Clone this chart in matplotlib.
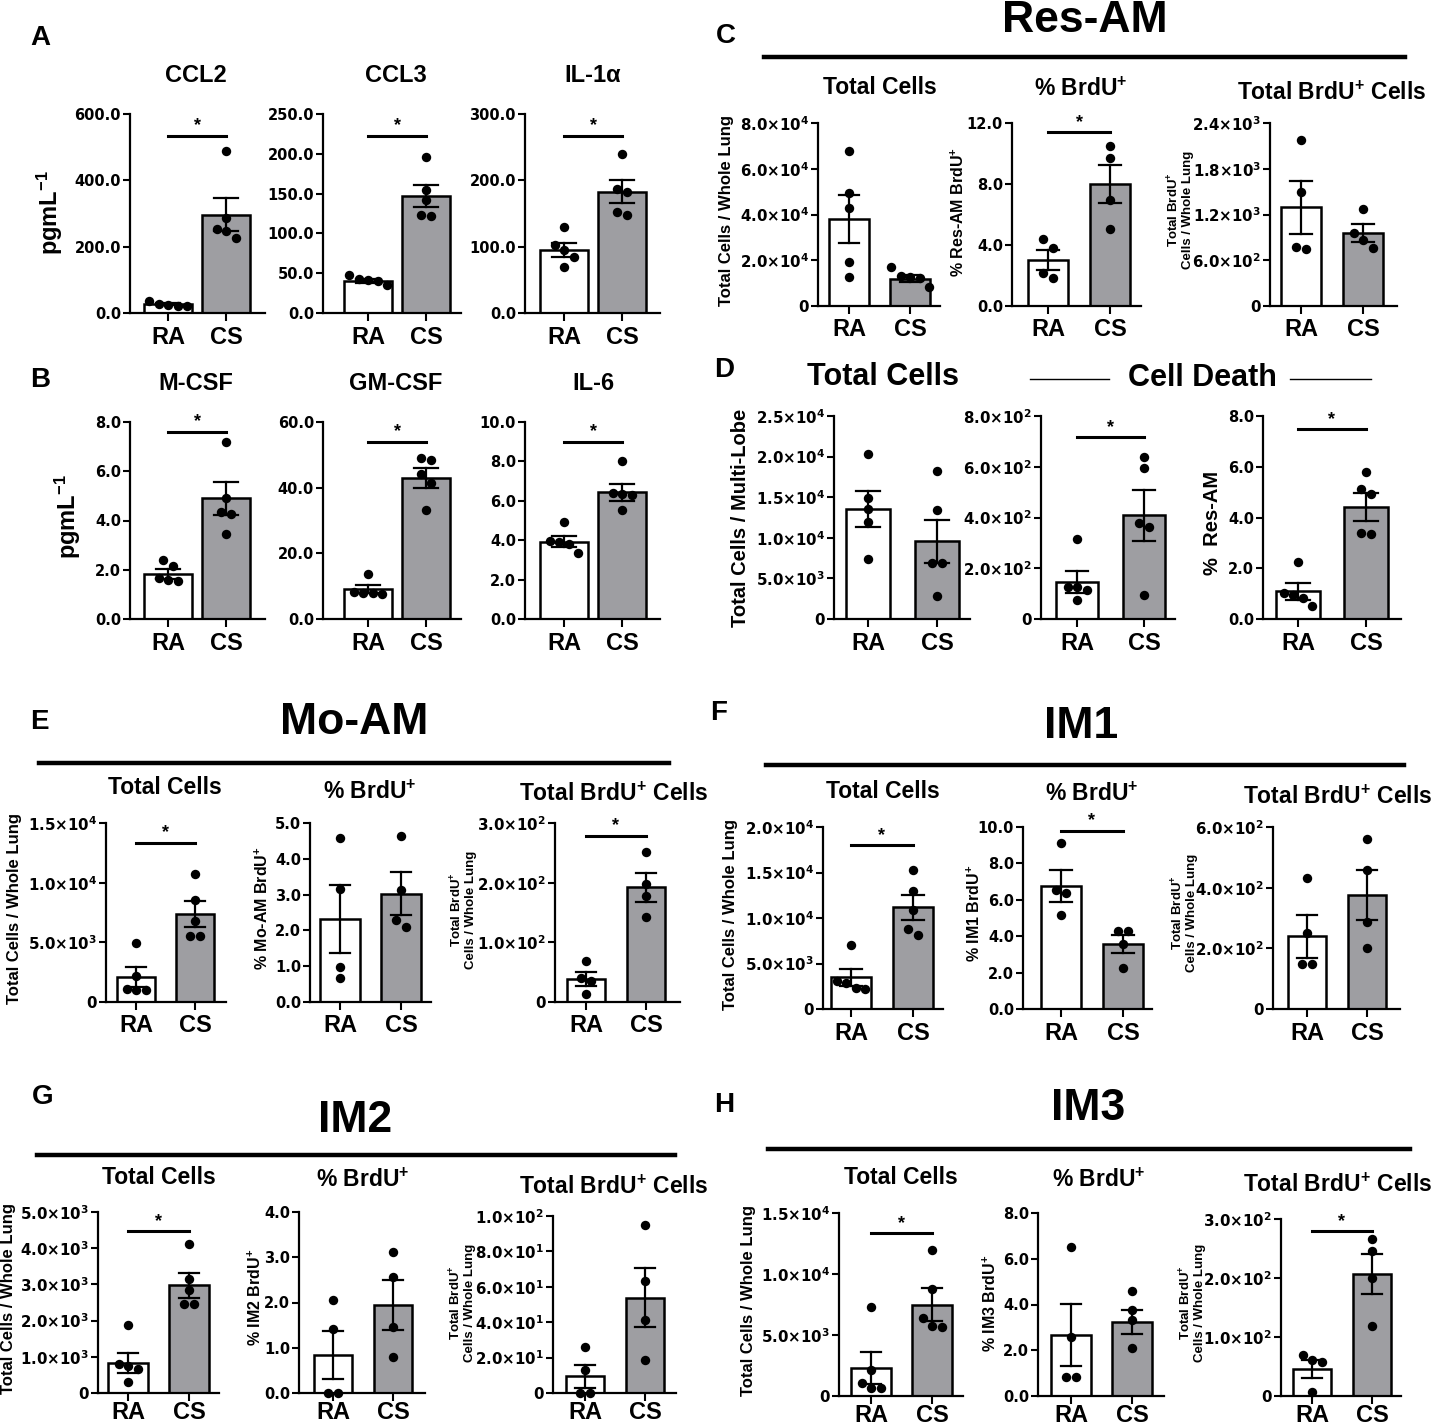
import matplotlib
matplotlib.use("Agg")
import matplotlib.pyplot as plt
import numpy as np

W, H = 1431, 1422
plt.rcParams["font.family"] = ["Liberation Sans", "DejaVu Sans"]
plt.rcParams["font.weight"] = "bold"
plt.rcParams["mathtext.default"] = "regular"
plt.rcParams["axes.linewidth"] = 1.6

GROUPS = ["RA", "CS"]
RA_COLOR = "white"
CS_COLOR = "#9e9ea2"
TICK_FONT = ["DejaVu Sans"]

# ---- A: cytokines (pg/mL) ----
CCL2_RA = [37, 28, 25, 22, 20]
CCL2_CS = [487, 287, 252, 246, 225]
CCL2_MEAN = [26, 296]
CCL2_SEM = [3, 50]
CCL3_RA = [48, 43, 42, 40, 35]
CCL3_CS = [196, 155, 142, 123, 122]
CCL3_MEAN = [40, 147]
CCL3_SEM = [2.5, 14]
IL1A_RA = [129, 102, 95, 85, 69]
IL1A_CS = [240, 187, 182, 152, 147]
IL1A_MEAN = [95, 183]
IL1A_SEM = [10, 17]
# ---- B ----
MCSF_RA = [2.4, 2.15, 1.65, 1.6, 1.55]
MCSF_CS = [7.2, 4.9, 4.35, 4.25, 3.45]
MCSF_MEAN = [1.82, 4.9]
MCSF_SEM = [0.2, 0.67]
GMCSF_RA = [13.8, 8.2, 8.0, 7.8, 7.6]
GMCSF_CS = [49.1, 48.4, 44.1, 41.3, 33.2]
GMCSF_MEAN = [9.1, 43.0]
GMCSF_SEM = [1.2, 3.0]
IL6_RA = [4.9, 3.95, 3.9, 3.8, 3.35]
IL6_CS = [8.0, 6.4, 6.35, 6.27, 5.53]
IL6_MEAN = [3.93, 6.43]
IL6_SEM = [0.3, 0.42]
# ---- C: Res-AM ----
RES_TOT_RA = [6.79e4, 4.93e4, 4.28e4, 1.94e4, 1.28e4]
RES_TOT_CS = [1.69e4, 1.31e4, 1.28e4, 1.21e4, 0.82e4]
RES_TOT_MEAN = [3.81e4, 1.20e4]
RES_TOT_SEM = [1.05e4, 0.15e4]
RES_PCT_RA = [4.4, 3.79, 2.14, 1.82]
RES_PCT_CS = [10.46, 9.69, 6.96, 5.03]
RES_PCT_MEAN = [3.02, 8.01]
RES_PCT_SEM = [0.66, 1.25]
RES_BRDU_RA = [2181, 1494, 780, 745]
RES_BRDU_CS = [1275, 960, 870, 760]
RES_BRDU_MEAN = [1292, 955]
RES_BRDU_SEM = [350, 122]
# ---- D: total cells / cell death ----
D_TOT_RA = [2.03e4, 1.49e4, 1.35e4, 1.20e4, 0.74e4]
D_TOT_CS = [1.82e4, 1.34e4, 0.69e4, 0.69e4, 0.28e4]
D_TOT_MEAN = [1.357e4, 0.955e4]
D_TOT_SEM = [0.22e4, 0.27e4]
D_DEATH_RA = [316, 126, 126, 113, 73]
D_DEATH_CS = [637, 594, 378, 362, 93]
D_DEATH_MEAN = [146, 408]
D_DEATH_SEM = [45, 101]
D_PCT_RA = [2.23, 1.02, 0.96, 0.83, 0.52]
D_PCT_CS = [5.81, 5.11, 4.93, 3.38, 3.36]
D_PCT_MEAN = [1.09, 4.43]
D_PCT_SEM = [0.33, 0.55]
# ---- E: Mo-AM ----
MO_TOT_RA = [4944, 2150, 1089, 1033, 978]
MO_TOT_CS = [10754, 8575, 6816, 5503, 5503]
MO_TOT_MEAN = [2095, 7374]
MO_TOT_SEM = [810, 1090]
MO_PCT_RA = [4.58, 3.16, 0.98, 0.66]
MO_PCT_CS = [4.63, 3.14, 2.30, 2.10]
MO_PCT_MEAN = [2.32, 3.03]
MO_PCT_SEM = [0.96, 0.59]
MO_BRDU_RA = [68, 40, 35, 14]
MO_BRDU_CS = [252, 198, 177, 142]
MO_BRDU_MEAN = [39, 192]
MO_BRDU_SEM = [12, 24]
# ---- F: IM1 ----
IM1_TOT_RA = [7020, 3071, 2815, 2267, 2194]
IM1_TOT_CS = [15247, 12943, 10859, 8739, 8117]
IM1_TOT_MEAN = [3474, 11188]
IM1_TOT_SEM = [914, 1390]
IM1_PCT_RA = [9.14, 6.53, 6.38, 5.19]
IM1_PCT_CS = [4.30, 4.30, 3.56, 2.27]
IM1_PCT_MEAN = [6.76, 3.56]
IM1_PCT_SEM = [0.9, 0.5]
IM1_BRDU_RA = [433, 249, 148, 148]
IM1_BRDU_CS = [559, 457, 287, 200]
IM1_BRDU_MEAN = [240, 375]
IM1_BRDU_SEM = [71, 82]
# ---- G: IM2 ----
IM2_TOT_RA = [1869, 792, 737, 672, 304]
IM2_TOT_CS = [4125, 3158, 2855, 2468, 2449]
IM2_TOT_MEAN = [829, 2974]
IM2_TOT_SEM = [276, 341]
IM2_PCT_RA = [2.05, 1.42, 0, 0]
IM2_PCT_CS = [3.12, 2.56, 1.46, 0.80]
IM2_PCT_MEAN = [0.85, 1.95]
IM2_PCT_SEM = [0.53, 0.55]
IM2_BRDU_RA = [26, 13.2, 0, 0]
IM2_BRDU_CS = [94.9, 63.2, 41.1, 18.5]
IM2_BRDU_MEAN = [9.4, 53.8]
IM2_BRDU_SEM = [6.6, 16.6]
# ---- H: IM3 ----
IM3_TOT_RA = [7308, 2127, 1036, 682, 682]
IM3_TOT_CS = [11944, 8808, 6354, 5727, 5672]
IM3_TOT_MEAN = [2318, 7500]
IM3_TOT_SEM = [1309, 1363]
IM3_PCT_RA = [6.52, 2.59, 0.84, 0.84]
IM3_PCT_CS = [4.58, 3.75, 3.32, 2.08]
IM3_PCT_MEAN = [2.66, 3.24]
IM3_PCT_SEM = [1.35, 0.54]
IM3_BRDU_RA = [69.6, 61, 58, 7.4]
IM3_BRDU_CS = [266, 246, 200, 119]
IM3_BRDU_MEAN = [45.8, 206.6]
IM3_BRDU_SEM = [15, 34]


def sci(v):
    if v == 0:
        return "0"
    e = int(np.floor(np.log10(v) + 1e-9))
    return f"${v / 10 ** e:.1f}×10^{{{e}}}$"


def dec(v):
    return f"{v:.1f}"


def spread(vals, thr, step):
    # simple GraphPad-like scatter: points close in y share a centred row
    order = np.argsort(vals)[::-1]
    offs = np.zeros(len(vals))
    cluster = [order[0]]
    clusters = []
    for i in order[1:]:
        if vals[cluster[-1]] - vals[i] < thr:
            cluster.append(i)
        else:
            clusters.append(cluster)
            cluster = [i]
    clusters.append(cluster)
    for c in clusters:
        n = len(c)
        for k, i in enumerate(c):
            offs[i] = (k - (n - 1) / 2) * step
    return offs


fig = plt.figure(figsize=(W / 100, H / 100), dpi=100)
bg = fig.add_axes([0, 0, 1, 1], zorder=-1)
bg.set_xlim(0, W)
bg.set_ylim(H, 0)
bg.axis("off")


def panel(box, ymax, tstep, fmt, ra, cs, mean, sem, sig=None, width=0.64, cap=0.17, xpad=3):
    yx, c0, c1, end, top, bot = box
    sp = c1 - c0
    ax = fig.add_axes([yx / W, 1 - bot / H, (end - yx) / W, (bot - top) / H])
    ax.set_xlim((yx - c0) / sp, (end - c0) / sp)
    ax.set_ylim(0, ymax)
    ax.bar([0, 1], mean, width=width, color=[RA_COLOR, CS_COLOR],
           edgecolor="black", linewidth=1.8, zorder=2)
    for x, m, s in zip([0, 1], mean, sem):
        ax.plot([x, x], [m - s, m + s], color="black", lw=1.6, zorder=3)
        for yy in (m - s, m + s):
            ax.plot([x - cap, x + cap], [yy, yy], color="black", lw=1.6, zorder=3)
    thr = 9.5 / (bot - top) * ymax
    for x, pts in zip([0, 1], [ra, cs]):
        offs = spread(np.array(pts, dtype=float), thr, 9.5 / sp)
        ax.scatter(x + offs, pts, s=46, color="black", zorder=4, clip_on=False, linewidths=0)
    ticks = np.arange(0, ymax + tstep / 2, tstep)
    ax.set_yticks(ticks)
    ax.set_yticklabels([fmt(t) for t in ticks], fontsize=10.5 if fmt is dec else 10.8,
                       family=TICK_FONT)
    ax.set_xticks([0, 1])
    ax.set_xticklabels(GROUPS, fontsize=17)
    ax.spines[["top", "right"]].set_visible(False)
    ax.tick_params(axis="y", length=5, width=1.5, pad=1.5)
    ax.tick_params(axis="x", length=6, width=1.5, pad=xpad)
    if sig is not None:
        ax.plot([0, 1], [sig * ymax] * 2, color="black", lw=2.2, clip_on=False, zorder=5)
        ax.annotate("*", (0.5, sig * ymax), xytext=(0, 1), textcoords="offset points",
                    ha="center", va="bottom", fontsize=13)
    return ax


def label(x, y, s, size=16.5, **kw):
    bg.text(x, y, s, ha="center", va="center", fontsize=size, **kw)


def ylab(x, y, s, size=12):
    bg.text(x, y, s, ha="center", va="center", rotation=90, fontsize=size,
            multialignment="center", linespacing=1.0)


# ---- A / B ----
wide = dict(width=0.83, cap=0.2)
panel((130, 168, 226, 265, 114, 313), 600, 200, dec, CCL2_RA, CCL2_CS, CCL2_MEAN, CCL2_SEM, 0.89, **wide)
panel((323, 368, 426, 461, 114, 313), 250, 50, dec, CCL3_RA, CCL3_CS, CCL3_MEAN, CCL3_SEM, 0.89, **wide)
panel((525, 564, 622, 660, 114, 313), 300, 100, dec, IL1A_RA, IL1A_CS, IL1A_MEAN, IL1A_SEM, 0.89, **wide)
panel((130, 168, 226, 265, 422, 619), 8, 2, dec, MCSF_RA, MCSF_CS, MCSF_MEAN, MCSF_SEM, 0.95, **wide)
panel((323, 368, 426, 461, 422, 619), 60, 20, dec, GMCSF_RA, GMCSF_CS, GMCSF_MEAN, GMCSF_SEM, 0.9, **wide)
panel((525, 564, 622, 660, 422, 619), 10, 2, dec, IL6_RA, IL6_CS, IL6_MEAN, IL6_SEM, 0.9, **wide)
for x, t in zip([196, 396, 593], ["CCL2", "CCL3", "IL-1α"]):
    label(x, 75, t, 17)
for x, t in zip([196, 396, 593], ["M-CSF", "GM-CSF", "IL-6"]):
    label(x, 383, t, 17)
ylab(50, 213, "pgmL$^{-1}$", 17)
ylab(68, 517, "pgmL$^{-1}$", 17)
label(40, 38, "A", 20)
label(40, 380, "B", 20)

# ---- C: Res-AM ----
panel((818, 849, 910, 940, 123, 306), 8e4, 2e4, sci, RES_TOT_RA, RES_TOT_CS, RES_TOT_MEAN, RES_TOT_SEM)
panel((1012, 1048, 1110, 1141, 123, 306), 12, 4, dec, RES_PCT_RA, RES_PCT_CS, RES_PCT_MEAN, RES_PCT_SEM, 0.95)
panel((1270, 1301, 1363, 1397, 123, 306), 2400, 600, sci, RES_BRDU_RA, RES_BRDU_CS, RES_BRDU_MEAN, RES_BRDU_SEM)
label(726, 36, "C", 20)
label(1085, 21, "Res-AM", 32)
bg.plot([764, 1405], [57, 57], color="black", lw=3.2)
label(880, 87, "Total Cells")
label(1081, 89, "% BrdU$^{+}$")
label(1332, 93, "Total BrdU$^{+}$ Cells")
ylab(726, 210, "Total Cells / Whole Lung")
ylab(958, 212, "% Res-AM BrdU$^{+}$", 11.5)
ylab(1180, 210, "Total BrdU$^{+}$\nCells / Whole Lung", 9.5)

# ---- D ----
panel((834, 868, 937, 970, 416, 619), 2.5e4, 5e3, sci, D_TOT_RA, D_TOT_CS, D_TOT_MEAN, D_TOT_SEM)
panel((1041, 1077, 1144, 1175, 416, 619), 800, 200, sci, D_DEATH_RA, D_DEATH_CS, D_DEATH_MEAN, D_DEATH_SEM, 0.895)
panel((1263, 1298, 1366, 1401, 416, 619), 8, 2, dec, D_PCT_RA, D_PCT_CS, D_PCT_MEAN, D_PCT_SEM, 0.935)
label(724, 370, "D", 20)
label(883, 377, "Total Cells", 22)
label(1202, 378, "Cell Death", 22)
bg.plot([1030, 1109], [379, 379], color="black", lw=1.0)
bg.plot([1290, 1371], [379, 379], color="black", lw=1.0)
ylab(741, 518, "Total Cells / Multi-Lobe", 14.5)
ylab(1212, 523, "%  Res-AM", 14.5)

# ---- E: Mo-AM ----
panel((106, 136, 195, 226, 823, 1002), 1.5e4, 5e3, sci, MO_TOT_RA, MO_TOT_CS, MO_TOT_MEAN, MO_TOT_SEM, 0.89)
panel((310, 340, 401, 431, 823, 1002), 5, 1, dec, MO_PCT_RA, MO_PCT_CS, MO_PCT_MEAN, MO_PCT_SEM)
panel((555, 586, 646, 680, 823, 1002), 300, 100, sci, MO_BRDU_RA, MO_BRDU_CS, MO_BRDU_MEAN, MO_BRDU_SEM, 0.93)
label(39, 722, "E", 20)
label(354, 723, "Mo-AM", 32)
bg.plot([39, 669], [763, 763], color="black", lw=3.2)
label(165, 788, "Total Cells")
label(370, 792, "% BrdU$^{+}$")
label(614, 794, "Total BrdU$^{+}$ Cells")
ylab(15, 909, "Total Cells / Whole Lung")
ylab(262, 908, "% Mo-AM BrdU$^{+}$", 11.5)
ylab(463, 910, "Total BrdU$^{+}$\nCells / Whole Lung", 9.5)

# ---- F: IM1 ----
panel((823, 851, 913, 943, 827, 1009), 2e4, 5e3, sci, IM1_TOT_RA, IM1_TOT_CS, IM1_TOT_MEAN, IM1_TOT_SEM, 0.9)
panel((1023, 1061, 1123, 1152, 827, 1009), 10, 2, dec, IM1_PCT_RA, IM1_PCT_CS, IM1_PCT_MEAN, IM1_PCT_SEM, 0.98)
panel((1273, 1307, 1367, 1400, 827, 1009), 600, 200, sci, IM1_BRDU_RA, IM1_BRDU_CS, IM1_BRDU_MEAN, IM1_BRDU_SEM)
label(719, 713, "F", 20)
label(1081, 727, "IM1", 32)
bg.plot([766, 1404], [765, 765], color="black", lw=3.2)
label(883, 791, "Total Cells")
label(1092, 794, "% BrdU$^{+}$")
label(1338, 797, "Total BrdU$^{+}$ Cells")
ylab(730, 914, "Total Cells / Whole Lung")
ylab(974, 913, "% IM1 BrdU$^{+}$", 11.5)
ylab(1184, 913, "Total BrdU$^{+}$\nCells / Whole Lung", 9.5)

# ---- G: IM2 ----
low = dict(xpad=0)
panel((98, 128, 189, 219, 1212, 1393), 5000, 1000, sci, IM2_TOT_RA, IM2_TOT_CS, IM2_TOT_MEAN, IM2_TOT_SEM, 0.895, **low)
panel((299, 333, 393, 425, 1212, 1393), 4, 1, dec, IM2_PCT_RA, IM2_PCT_CS, IM2_PCT_MEAN, IM2_PCT_SEM, **low)
panel((553, 585, 645, 676, 1216, 1393), 100, 20, sci, IM2_BRDU_RA, IM2_BRDU_CS, IM2_BRDU_MEAN, IM2_BRDU_SEM, **low)
label(43, 1097, "G", 20)
label(355, 1120, "IM2", 32)
bg.plot([37, 675], [1155, 1155], color="black", lw=3.2)
label(159, 1177, "Total Cells")
label(363, 1180, "% BrdU$^{+}$")
label(614, 1187, "Total BrdU$^{+}$ Cells")
ylab(9, 1298, "Total Cells / Whole Lung")
ylab(255, 1297, "% IM2 BrdU$^{+}$", 11.5)
ylab(462, 1303, "Total BrdU$^{+}$\nCells / Whole Lung", 9.5)

# ---- H: IM3 ----
panel((839, 871, 932, 963, 1213, 1396), 1.5e4, 5e3, sci, IM3_TOT_RA, IM3_TOT_CS, IM3_TOT_MEAN, IM3_TOT_SEM, 0.89, **low)
panel((1038, 1071, 1132, 1164, 1213, 1396), 8, 2, dec, IM3_PCT_RA, IM3_PCT_CS, IM3_PCT_MEAN, IM3_PCT_SEM, **low)
panel((1281, 1312, 1372, 1401, 1219, 1396), 300, 100, sci, IM3_BRDU_RA, IM3_BRDU_CS, IM3_BRDU_MEAN, IM3_BRDU_SEM, 0.93, **low)
label(724, 1105, "H", 20)
label(1088, 1108, "IM3", 32)
bg.plot([768, 1410], [1149, 1149], color="black", lw=3.2)
label(901, 1177, "Total Cells")
label(1099, 1180, "% BrdU$^{+}$")
label(1338, 1185, "Total BrdU$^{+}$ Cells")
ylab(748, 1301, "Total Cells / Whole Lung")
ylab(990, 1303, "% IM3 BrdU$^{+}$", 11.5)
ylab(1192, 1303, "Total BrdU$^{+}$\nCells / Whole Lung", 9.5)

fig.savefig("out.png", dpi=100)
